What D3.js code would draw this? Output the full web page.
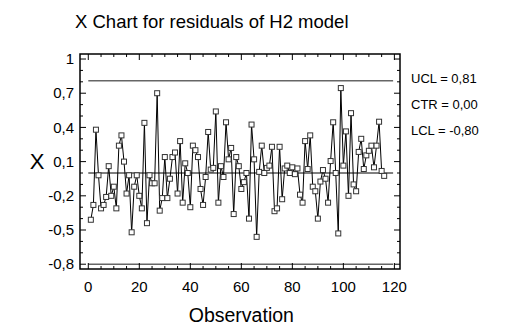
<!DOCTYPE html>
<html><head><meta charset="utf-8">
<script src="https://cdn.jsdelivr.net/npm/d3@7"></script>
<style>body{margin:0;background:#fff}svg{display:block;font-family:"Liberation Sans",Arial,sans-serif}</style>
</head><body><svg id="c" width="520" height="331"></svg>
<script>
const title = "X Chart for residuals of H2 model";
const xLabel = "Observation";
const yLabel = "X";
const residuals = [
 -0.41,-0.28,0.38,-0.02,-0.31,-0.28,-0.21,0.06,-0.20,-0.12,
 -0.31,0.24,0.33,0.10,-0.18,-0.02,-0.52,-0.12,-0.02,-0.20,
 -0.31,0.44,-0.44,-0.02,-0.09,-0.09,0.70,-0.33,-0.22,0.14,
 -0.22,-0.05,0.14,0.18,-0.18,0.28,-0.26,0.085,0.0,-0.30,
 0.24,0.20,0.14,-0.14,-0.28,-0.035,0.36,0.03,0.045,0.54,
 -0.26,0.06,-0.035,0.445,0.12,0.22,-0.36,0.14,0.06,-0.14,
 -0.08,0.0,-0.40,0.425,0.12,-0.56,0.01,0.24,0.0,0.045,
 0.065,0.23,-0.335,-0.31,0.23,-0.23,0.04,0.065,0.0,0.05,
 -0.01,0.04,-0.19,-0.26,0.28,0.035,0.33,-0.12,-0.16,-0.40,
 -0.075,0.026,-0.05,-0.26,0.105,0.445,0.0,-0.53,0.745,0.065,
 0.365,-0.2,0.525,-0.10,-0.16,0.185,0.30,0.035,0.155,0.195,
 0.24,0.05,0.24,0.45,0.018,-0.025
];
const limits = [{name:"UCL", value:0.81, label:"0,81"},{name:"CTR", value:0.0, label:"0,00"},{name:"LCL", value:-0.80, label:"-0,80"}];
const yTicks = [1, 0.7, 0.4, 0.1, -0.2, -0.5, -0.8];
const xTicks = [0, 20, 40, 60, 80, 100, 120];

const svg = d3.select("#c");
const L = 80, R = 400, T = 54, B = 269;
const x = d3.scaleLinear().domain([-3.25, 122.2]).range([L, R]);
const y = d3.scaleLinear().domain([-0.842, 1.044]).range([B, T]);
const fmt = v => d3.format(".1f")(v).replace(".", ",").replace("−","-");

svg.append("text").attr("x", 75).attr("y", 28).attr("font-size", 18.5).text(title);

// limit lines
limits.forEach(l => {
  svg.append("line").attr("x1", x(0)).attr("x2", x(119.5)).attr("y1", y(l.value)).attr("y2", y(l.value))
    .attr("stroke", l.name === "CTR" ? "#000" : "#666").attr("stroke-width", l.name === "CTR" ? 1 : 1.6);
});

// ticks
const minorY = d3.range(-8, 11).map(d => d / 10);
const g = svg.append("g");
minorY.forEach(v => {
  const major = yTicks.some(t => Math.abs(t - v) < 1e-6);
  const len = major ? 6 : 3;
  g.append("line").attr("x1", L).attr("x2", L + len).attr("y1", y(v)).attr("y2", y(v)).attr("stroke", "#000");
  g.append("line").attr("x1", R).attr("x2", R - len).attr("y1", y(v)).attr("y2", y(v)).attr("stroke", "#000");
});
d3.range(0, 121, 5).forEach(v => {
  const major = v % 20 === 0;
  const len = major ? 6 : 3;
  g.append("line").attr("y1", B).attr("y2", B - len).attr("x1", x(v)).attr("x2", x(v)).attr("stroke", "#000");
  g.append("line").attr("y1", T).attr("y2", T + len).attr("x1", x(v)).attr("x2", x(v)).attr("stroke", "#000");
});
svg.append("rect").attr("x", L).attr("y", T).attr("width", R - L).attr("height", B - T)
  .attr("fill", "none").attr("stroke", "#000").attr("stroke-width", 1.5);

yTicks.forEach(v => {
  svg.append("text").attr("x", L - 6).attr("y", y(v)).attr("dy", "0.35em").attr("text-anchor", "end")
    .attr("font-size", 15).text(fmt(v).replace(/^1,0$/, "1"));
});
xTicks.forEach(v => {
  svg.append("text").attr("x", x(v)).attr("y", 292).attr("text-anchor", "middle").attr("font-size", 15).text(v);
});
svg.append("text").attr("x", x(60)).attr("y", 322).attr("text-anchor", "middle").attr("font-size", 19.5).text(xLabel);
svg.append("text").attr("x", 37).attr("y", y(0.1)).attr("dy", "0.35em").attr("text-anchor", "middle").attr("font-size", 22).text(yLabel);

limits.forEach((l, i) => {
  svg.append("text").attr("x", 411).attr("y", 78 + i * 26).attr("dy", "0.35em").attr("font-size", 13)
    .text(l.name + " = " + l.label);
});

const line = d3.line().x((d, i) => x(i + 1)).y(d => y(d));
svg.append("path").datum(residuals).attr("d", line).attr("fill", "none").attr("stroke", "#000").attr("stroke-width", 1);
svg.selectAll("rect.pt").data(residuals).enter().append("rect").attr("class", "pt")
  .attr("x", (d, i) => x(i + 1) - 2.5).attr("y", d => y(d) - 2.5).attr("width", 5).attr("height", 5)
  .attr("fill", "#fff").attr("stroke", "#333").attr("stroke-width", 1);
</script></body></html>
